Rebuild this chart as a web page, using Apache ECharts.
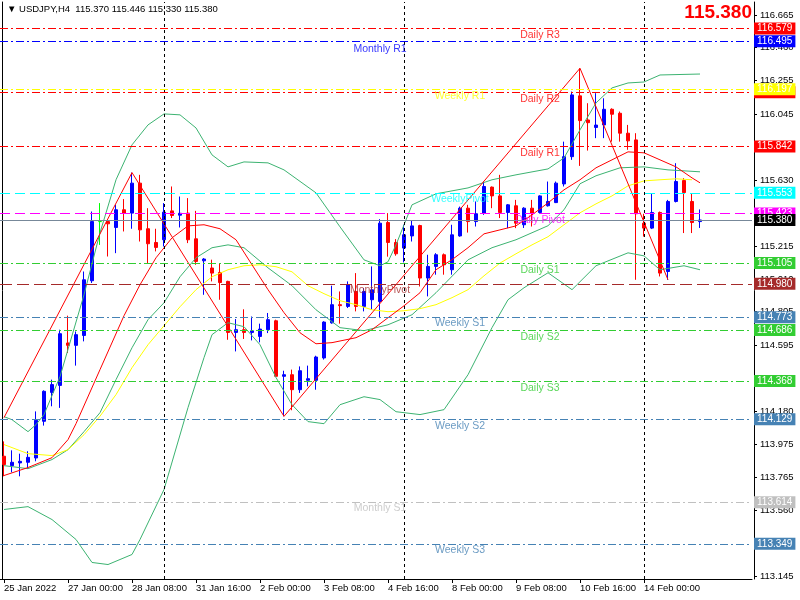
<!DOCTYPE html>
<html><head><meta charset="utf-8">
<script src="https://cdn.jsdelivr.net/npm/echarts@6/dist/echarts.min.js"></script>
<style>html,body{margin:0;padding:0;background:#fff}#c{width:800px;height:600px}</style>
</head><body><div id="c"></div>
<script>
// ---- DATA ----
const opens  = [113.899,113.840,113.857,113.861,113.888,114.118,114.299,114.343,114.609,114.594,114.656,114.999,115.370,115.370,115.333,115.444,115.423,115.611,115.325,115.239,115.256,115.437,115.410,115.423,115.262,115.124,115.079,115.051,114.995,114.675,114.692,114.675,114.650,114.692,114.748,114.400,114.410,114.316,114.375,114.375,114.515,114.735,114.849,114.838,114.932,114.838,114.880,114.869,115.364,115.239,115.204,115.280,115.345,115.016,115.089,115.162,115.068,115.280,115.454,115.370,115.423,115.586,115.531,115.427,115.469,115.350,115.454,115.427,115.469,115.489,115.606,115.777,116.158,116.007,115.960,115.976,116.074,116.049,115.924,115.882,115.360,115.329,115.427,115.057,115.496,115.627,115.496,115.370];
const highs  = [113.992,113.936,113.915,113.930,114.180,114.312,114.379,114.692,114.780,114.681,115.057,115.433,115.486,115.381,115.475,115.511,115.677,115.663,115.454,115.325,115.486,115.590,115.527,115.517,115.437,115.141,115.131,115.110,114.999,114.759,114.820,114.775,114.730,114.797,114.755,114.435,114.442,114.462,114.467,114.529,114.745,114.968,114.932,114.995,115.047,114.953,115.089,115.385,115.423,115.260,115.350,115.375,115.350,115.162,115.172,115.170,115.350,115.464,115.475,115.496,115.621,115.590,115.663,115.480,115.506,115.460,115.506,115.535,115.621,115.621,115.871,116.185,116.331,116.112,116.175,116.143,116.080,116.060,115.976,115.924,115.419,115.548,115.433,115.506,115.736,115.642,115.548,115.446];
const lows   = [113.773,113.798,113.773,113.820,113.867,114.091,114.212,114.202,114.546,114.467,114.619,114.985,115.224,115.151,115.172,115.308,115.325,115.245,115.110,115.183,115.214,115.392,115.333,115.235,115.099,114.911,114.995,114.880,114.629,114.556,114.634,114.625,114.613,114.671,114.395,114.149,114.187,114.296,114.337,114.316,114.505,114.730,114.730,114.828,114.807,114.807,114.817,114.765,115.150,115.156,115.114,115.245,114.963,114.901,115.037,115.037,115.037,115.275,115.301,115.339,115.412,115.454,115.392,115.329,115.329,115.330,115.339,115.420,115.464,115.486,115.590,115.757,115.719,115.815,115.893,115.893,115.871,115.871,115.820,115.005,115.276,115.323,115.026,115.005,115.490,115.298,115.298,115.330];
const closes = [113.847,113.861,113.867,113.892,114.124,114.306,114.348,114.667,114.594,114.661,115.005,115.370,115.370,115.356,115.444,115.423,115.611,115.318,115.231,115.208,115.429,115.408,115.422,115.256,115.120,115.135,115.047,114.988,114.675,114.692,114.675,114.685,114.696,114.755,114.400,114.410,114.316,114.435,114.385,114.521,114.740,114.849,114.843,114.974,114.838,114.932,114.942,115.360,115.239,115.168,115.287,115.343,115.016,115.089,115.162,115.099,115.287,115.454,115.370,115.419,115.590,115.531,115.427,115.475,115.360,115.454,115.423,115.531,115.496,115.611,115.777,116.164,116.003,115.990,115.975,116.074,116.043,115.924,115.876,115.419,115.329,115.427,115.047,115.496,115.621,115.552,115.364,115.380];

const tradingDays = ["25 Jan","26 Jan","27 Jan","28 Jan","31 Jan","1 Feb","2 Feb","3 Feb","4 Feb","7 Feb","8 Feb","9 Feb","10 Feb","11 Feb","14 Feb","15 Feb"];
const barHours = ["00:00","04:00","08:00","12:00","16:00","20:00"];
const xTickLabels = ["25 Jan 2022","27 Jan 00:00","28 Jan 08:00","31 Jan 16:00","2 Feb 00:00","3 Feb 08:00","4 Feb 16:00","8 Feb 00:00","9 Feb 08:00","10 Feb 16:00","14 Feb 00:00"];
const yTickValues = [116.665,116.460,116.255,116.045,115.840,115.630,115.425,115.215,115.010,114.805,114.595,114.390,114.180,113.975,113.765,113.560,113.350,113.145];

const bbUpper = [[0,114.147],[1,114.128],[3,114.053],[4,114.097],[5,114.160],[7,114.398],[10,114.911],[12,115.300],[14,115.632],[16,115.851],[18,115.976],[20,116.045],[22,116.039],[24,115.957],[26,115.788],[28,115.713],[30,115.744],[33,115.738],[35,115.694],[39,115.550],[42,115.337],[45,115.130],[47,115.093],[48,115.118],[49,115.224],[51,115.475],[54,115.544],[58,115.581],[61,115.632],[64,115.663],[68,115.700],[70,115.769],[72,115.945],[74,116.114],[76,116.208],[78,116.239],[80,116.245],[82,116.289],[87,116.295]];
const bbMiddle = [[0,113.840],[3,113.821],[6,113.878],[8,113.940],[10,114.053],[12,114.172],[14,114.379],[16,114.579],[18,114.755],[20,114.861],[22,115.024],[24,115.143],[26,115.206],[28,115.224],[30,115.206],[33,115.080],[36,114.968],[39,114.817],[42,114.705],[45,114.686],[48,114.723],[51,114.786],[54,114.924],[58,115.130],[61,115.206],[64,115.256],[68,115.344],[70,115.444],[72,115.607],[74,115.657],[77,115.707],[80,115.713],[83,115.694],[87,115.682]];
const bbLower = [[0,113.565],[3,113.583],[6,113.502],[9,113.377],[11,113.233],[13,113.220],[16,113.283],[17,113.377],[20,113.690],[23,114.204],[25,114.517],[26,114.661],[28,114.736],[30,114.711],[32,114.598],[34,114.392],[36,114.222],[38,114.116],[40,114.103],[42,114.222],[45,114.272],[47,114.254],[49,114.178],[52,114.160],[55,114.191],[58,114.410],[61,114.705],[63,114.880],[65,114.955],[68,115.049],[71,114.943],[74,115.093],[78,115.174],[80,115.155],[82,115.068],[85,115.093],[87,115.068]];
const maFast = [[0,113.778],[3,113.828],[6,113.890],[8,114.003],[9,114.103],[12,114.442],[15,114.780],[17,114.974],[19,115.143],[21,115.268],[23,115.343],[25,115.350],[27,115.325],[29,115.256],[31,115.099],[33,114.943],[35,114.799],[37,114.673],[39,114.604],[41,114.611],[44,114.642],[46,114.692],[48,114.767],[50,114.842],[52,114.924],[54,115.068],[56,115.131],[58,115.206],[60,115.293],[62,115.318],[64,115.343],[66,115.412],[68,115.487],[70,115.569],[72,115.632],[74,115.707],[76,115.757],[78,115.807],[80,115.801],[82,115.757],[84,115.713],[86,115.644],[87,115.613]];
const maSlow = [[0,113.972],[3,113.915],[6,113.903],[8,113.940],[10,114.034],[12,114.150],[14,114.285],[16,114.454],[18,114.598],[20,114.717],[22,114.836],[24,114.943],[26,115.024],[28,115.068],[30,115.093],[32,115.099],[34,115.087],[36,115.055],[38,114.968],[40,114.918],[42,114.874],[44,114.849],[46,114.817],[48,114.805],[50,114.811],[52,114.824],[54,114.849],[56,114.893],[58,114.943],[60,115.030],[62,115.110],[64,115.168],[66,115.224],[68,115.275],[70,115.350],[72,115.425],[74,115.481],[76,115.531],[78,115.594],[80,115.625],[82,115.632],[84,115.638],[86,115.632]];
const zigzag = [[0,114.141],[16,115.677],[35,114.149],[72,116.331],[83,115.005]];

const pivotNames  = ["Daily R3","Monthly R1","Daily R2","Weekly R1","Daily R1","WeeklyPivot","Daily Pivot","Daily S1","MonthlyPivot","Weekly S1","Daily S2","Daily S3","Weekly S2","Monthly S1","Weekly S3"];
const pivotValues = [116.579,116.495,116.180,116.197,115.842,115.553,115.423,115.105,114.980,114.773,114.686,114.368,114.129,113.614,113.349];
const lastPrice = 115.380;
const weekStartBars = [20,50,80];
const headerText = "\u25BC USDJPY,H4  115.370 115.446 115.330 115.380";

// ---- BUILD ----
const FONT = 'Liberation Sans';
const allBars = [];
tradingDays.forEach(d => barHours.forEach(h => allBars.push(d + ' ' + h)));
const categories = allBars.slice(4, 4 + opens.length);
for (let k = 0; k < 6; k++) categories.push('');

const candleData = opens.map((o, i) => {
  const item = { value: [o, closes[i], lows[i], highs[i]] };
  if (o === closes[i]) item.itemStyle = { color: '#00FF00', borderColor: '#00FF00', borderColor0: '#00FF00' };
  return item;
});

const DASHDOT = [8, 3, 2, 3];
const DASHED = [10, 5];
function pivotStyle(name) {
  if (name.startsWith('Daily Pivot')) return { c: '#FF00FF', t: DASHED, at: 67 };
  if (name.startsWith('Daily R')) return { c: '#FF0000', t: DASHDOT, at: 67 };
  if (name.startsWith('Daily S')) return { c: '#32CD32', t: DASHDOT, at: 67 };
  if (name.startsWith('WeeklyPivot')) return { c: '#00FFFF', t: DASHED, at: 57 };
  if (name.startsWith('Weekly R')) return { c: '#FFFF00', t: DASHDOT, at: 57 };
  if (name.startsWith('Weekly S')) return { c: '#4682B4', t: DASHDOT, at: 57 };
  if (name.startsWith('MonthlyPivot')) return { c: '#A52A2A', t: [12, 5], at: 47 };
  if (name.startsWith('Monthly R')) return { c: '#0000FF', t: DASHDOT, at: 47 };
  return { c: '#C0C0C0', t: DASHDOT, at: 47 };
}
function boxLabel(v, bg) {
  return { show: true, position: 'end', distance: 2, formatter: v.toFixed(3), backgroundColor: bg,
    color: '#FFFFFF', padding: [1, 3, 0, 3], fontSize: 10, fontFamily: FONT, lineHeight: 11 };
}
const markLineData = [];
weekStartBars.forEach(b => markLineData.push({ xAxis: categories[b], lineStyle: { color: '#000', type: [3, 3], width: 1 }, label: { show: false } }));
pivotNames.forEach((n, i) => {
  const s = pivotStyle(n);
  markLineData.push({ yAxis: pivotValues[i], lineStyle: { color: s.c, type: s.t, width: 1 }, label: boxLabel(pivotValues[i], s.c) });
});
markLineData.push({ yAxis: lastPrice, lineStyle: { color: '#778899', type: 'solid', width: 1 }, label: boxLabel(lastPrice, '#000000') });

const pivotTextData = pivotNames.map((n, i) => {
  const s = pivotStyle(n);
  return { name: n, value: [s.at, pivotValues[i]], label: { color: s.c } };
});

const yMin = 113.1293, yMax = 116.7465;
const isTick = (idx) => idx % 8 === 0 && idx <= 80;

function lineSeries(data, color, z) {
  return { type: 'line', data: data, connectNulls: true, showSymbol: false, symbol: 'none', z: z || 3,
    lineStyle: { color: color, width: 1 }, silent: true, animation: false };
}

const chart = echarts.init(document.getElementById('c'), null, { renderer: 'canvas' });
chart.setOption({
  animation: false,
  backgroundColor: '#FFFFFF',
  textStyle: { fontFamily: FONT },
  title: [
    { text: headerText, left: 7, top: 4, padding: 0, textStyle: { fontSize: 9.5, fontWeight: 'normal', color: '#000', fontFamily: FONT } },
    { text: lastPrice.toFixed(3), right: 48, top: 3, padding: 0, textStyle: { fontSize: 19, fontWeight: 'bold', color: '#FF0000', fontFamily: FONT } }
  ],
  grid: { left: 0, right: 48, top: 2, bottom: 21, containLabel: false },
  xAxis: {
    type: 'category', data: categories, boundaryGap: true,
    axisLine: { show: true, lineStyle: { color: '#000', width: 1 } },
    axisTick: { show: true, alignWithLabel: true, interval: isTick, length: 4, lineStyle: { color: '#000' } },
    axisLabel: { interval: isTick, formatter: (v, idx) => xTickLabels[idx / 8] || '', align: 'left', margin: 4,
      fontSize: 9.5, color: '#000', fontFamily: FONT },
    splitLine: { show: false }
  },
  yAxis: [
    { type: 'value', position: 'right', offset: 2, min: yMin, max: yMax, scale: true,
      axisLine: { show: true, lineStyle: { color: '#000', width: 1 } },
      axisTick: { show: true, length: 3, customValues: yTickValues, lineStyle: { color: '#000' } },
      axisLabel: { customValues: yTickValues, formatter: v => v.toFixed(3), margin: 6, fontSize: 9.5, color: '#000', fontFamily: FONT },
      splitLine: { show: false } },
    { type: 'value', position: 'left', offset: -2, min: yMin, max: yMax, scale: true,
      axisLine: { show: true, lineStyle: { color: '#000', width: 1 } },
      axisTick: { show: false }, axisLabel: { show: false }, splitLine: { show: false } }
  ],
  series: [
    { type: 'candlestick', data: candleData, barWidth: 4, z: 2,
      itemStyle: { color: '#0000FF', color0: '#FF0000', borderColor: '#0000FF', borderColor0: '#FF0000', borderColorDoji: '#00FF00', borderWidth: 1 } },
    lineSeries(bbUpper, '#3CB371'),
    lineSeries(bbMiddle, '#3CB371'),
    lineSeries(bbLower, '#3CB371'),
    lineSeries(maSlow, '#FFFF00'),
    lineSeries(maFast, '#FF0000'),
    lineSeries(zigzag, '#FF0000'),
    { type: 'line', data: [], z: 4, silent: true,
      markLine: { silent: true, symbol: ['none', 'none'], animation: false, data: markLineData } },
    { type: 'scatter', data: pivotTextData, symbolSize: 0, z: 5, silent: true,
      label: { show: true, position: 'bottom', distance: 1, formatter: '{b}', fontSize: 10.5, fontFamily: FONT } }
  ]
});
</script></body></html>
